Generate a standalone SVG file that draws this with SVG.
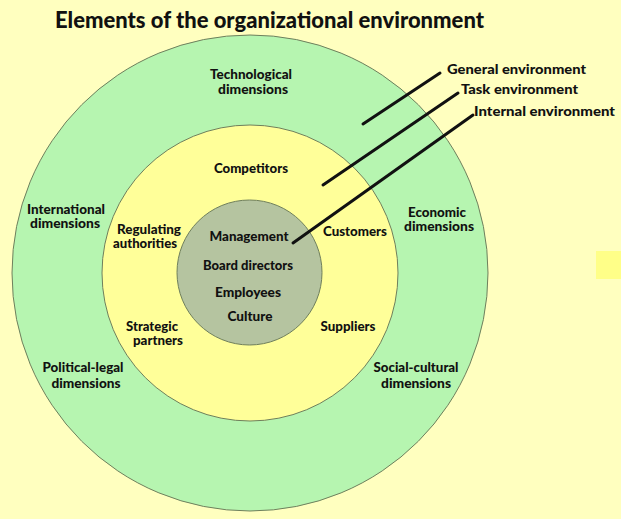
<svg xmlns="http://www.w3.org/2000/svg" width="621" height="519" viewBox="0 0 621 519">
<style>
.t{font-family:Lato,"Open Sans","Liberation Sans",sans-serif;font-weight:900;font-size:13px;fill:#111;text-anchor:middle}
.l{text-anchor:start}
.ring{stroke:#6f7f5c;stroke-width:1}
.ln{stroke:#111;stroke-width:3;stroke-linecap:round;fill:none}
</style>
<rect width="621" height="519" fill="#ffffbf"/>
<rect x="596" y="251" width="25" height="28" fill="#ffff88"/>
<text class="t" x="269.5" y="28" style="font-size:22px" textLength="429" lengthAdjust="spacingAndGlyphs">Elements of the organizational environment</text>
<g id="general">
<circle class="ring" cx="250" cy="273" r="238" fill="#b6f5b0"/>
<text class="t" x="251" y="78.5" textLength="82" lengthAdjust="spacingAndGlyphs">Technological</text>
<text class="t" x="253" y="93.5" textLength="70" lengthAdjust="spacingAndGlyphs">dimensions</text>
<text class="t" x="66" y="213.5" textLength="78" lengthAdjust="spacingAndGlyphs">International</text>
<text class="t" x="65" y="227.5" textLength="70" lengthAdjust="spacingAndGlyphs">dimensions</text>
<text class="t" x="437" y="216.5" textLength="58" lengthAdjust="spacingAndGlyphs">Economic</text>
<text class="t" x="439" y="230.5" textLength="70" lengthAdjust="spacingAndGlyphs">dimensions</text>
<text class="t" x="83" y="371.5" textLength="81" lengthAdjust="spacingAndGlyphs">Political-legal</text>
<text class="t" x="86" y="387.5" textLength="69" lengthAdjust="spacingAndGlyphs">dimensions</text>
<text class="t" x="416" y="371.5" textLength="85" lengthAdjust="spacingAndGlyphs">Social-cultural</text>
<text class="t" x="416" y="387.5" textLength="70" lengthAdjust="spacingAndGlyphs">dimensions</text>
</g>
<g id="task">
<circle class="ring" cx="250" cy="273" r="148" fill="#ffff99"/>
<text class="t" x="251" y="172.5" textLength="74" lengthAdjust="spacingAndGlyphs">Competitors</text>
<text class="t" x="149" y="233.5" textLength="64" lengthAdjust="spacingAndGlyphs">Regulating</text>
<text class="t" x="145" y="247.5" textLength="64" lengthAdjust="spacingAndGlyphs">authorities</text>
<text class="t" x="355" y="235.5" textLength="64" lengthAdjust="spacingAndGlyphs">Customers</text>
<text class="t" x="152" y="330.5" textLength="52" lengthAdjust="spacingAndGlyphs">Strategic</text>
<text class="t" x="158" y="344.5" textLength="50" lengthAdjust="spacingAndGlyphs">partners</text>
<text class="t" x="348" y="330.5" textLength="55" lengthAdjust="spacingAndGlyphs">Suppliers</text>
</g>
<g id="internal">
<circle class="ring" cx="249.5" cy="272.5" r="72.5" fill="#b5c4a0"/>
<text class="t" x="249" y="240.5" textLength="79" lengthAdjust="spacingAndGlyphs">Management</text>
<text class="t" x="248" y="269.5" textLength="90" lengthAdjust="spacingAndGlyphs">Board directors</text>
<text class="t" x="248" y="296.5" textLength="66" lengthAdjust="spacingAndGlyphs">Employees</text>
<text class="t" x="250" y="320.5" textLength="45" lengthAdjust="spacingAndGlyphs">Culture</text>
</g>
<g id="connectors">
<line class="ln" x1="363" y1="124" x2="440" y2="73"/>
<line class="ln" x1="323" y1="185" x2="458" y2="93"/>
<line class="ln" x1="293" y1="243" x2="473" y2="115"/>
</g>
<g id="labels">
<text class="t l" x="447" y="73.5" textLength="139" lengthAdjust="spacingAndGlyphs">General environment</text>
<text class="t l" x="461" y="93.5" textLength="117" lengthAdjust="spacingAndGlyphs">Task environment</text>
<text class="t l" x="474" y="115.5" textLength="141" lengthAdjust="spacingAndGlyphs">Internal environment</text>
</g>
</svg>
